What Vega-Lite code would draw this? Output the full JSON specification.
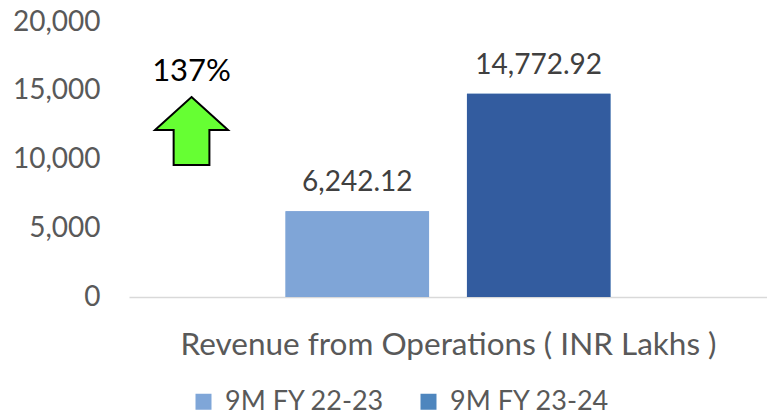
{
  "$schema": "https://vega.github.io/schema/vega-lite/v6.json",
  "width": 638,
  "height": 275,
  "autosize": {"type": "none"},
  "padding": {"left": 129, "top": 22, "right": 0, "bottom": 121},
  "background": "white",
  "config": {"view": {"stroke": null}, "font": "Lato"},
  "datasets": {
    "revenue": [
      {"series": "9M FY 22-23", "value": 6242.12},
      {"series": "9M FY 23-24", "value": 14772.92}
    ],
    "growth": [{"label": "137%"}]
  },
  "layer": [
    {
      "data": {"name": "revenue"},
      "encoding": {
        "x": {
          "field": "series",
          "type": "nominal",
          "sort": null,
          "scale": {"domain": ["9M FY 22-23", "9M FY 23-24"], "paddingInner": 0.209, "paddingOuter": 0.863},
          "axis": {
            "title": "Revenue from Operations ( INR Lakhs )",
            "labels": false,
            "ticks": false,
            "domainColor": "#D9D9D9",
            "domainWidth": 1.5,
            "titleFontSize": 31.5,
            "titleFontWeight": "normal",
            "titleColor": "#595959",
            "titlePadding": 32
          }
        },
        "y": {
          "field": "value",
          "type": "quantitative",
          "scale": {"domain": [0, 20000], "nice": false},
          "axis": {
            "title": null,
            "values": [0, 5000, 10000, 15000, 20000],
            "format": ",.0f",
            "domain": false,
            "ticks": false,
            "grid": false,
            "labelFontSize": 28,
            "labelColor": "#595959",
            "labelPadding": 29
          }
        }
      },
      "layer": [
        {
          "mark": {"type": "bar"},
          "encoding": {
            "color": {
              "field": "series",
              "type": "nominal",
              "scale": {"domain": ["9M FY 22-23", "9M FY 23-24"], "range": ["#7FA6D8", "#4E86BE"]},
              "legend": {
                "title": null,
                "orient": "none",
                "direction": "horizontal",
                "legendX": 61,
                "legendY": 366,
                "padding": 0,
                "symbolType": "square",
                "symbolSize": 256,
                "symbolStrokeWidth": 0,
                "labelFontSize": 27,
                "labelColor": "#595959",
                "labelOffset": 8,
                "labelLimit": 400,
                "columnPadding": 30
              }
            }
          }
        },
        {
          "mark": {"type": "bar"},
          "encoding": {
            "fill": {
              "field": "series",
              "type": "nominal",
              "scale": {"domain": ["9M FY 22-23", "9M FY 23-24"], "range": ["#7FA5D7", "#335C9F"]},
              "legend": null
            }
          }
        },
        {
          "mark": {"type": "text", "dy": -20, "baseline": "alphabetic", "fontSize": 28, "color": "#404040"},
          "encoding": {"text": {"field": "value", "type": "quantitative", "format": ",.2f"}}
        }
      ]
    },
    {
      "data": {"name": "growth"},
      "encoding": {
        "x": {"datum": 0.098, "type": "quantitative", "scale": {"domain": [0, 1]}, "axis": null}
      },
      "layer": [
        {
          "mark": {
            "type": "point",
            "shape": "M0,-0.93 L1,-0.03 L0.49,-0.03 L0.49,0.93 L-0.49,0.93 L-0.49,-0.03 L-1,-0.03 Z",
            "size": 5329,
            "filled": true,
            "fill": "#66FF33",
            "stroke": "#000000",
            "strokeWidth": 2,
            "opacity": 1
          },
          "encoding": {
            "y": {
              "datum": 12073,
              "type": "quantitative",
              "axis": {
                "title": null,
                "values": [0, 5000, 10000, 15000, 20000],
                "format": ",.0f",
                "domain": false,
                "ticks": false,
                "grid": false,
                "labelFontSize": 28,
                "labelColor": "#595959",
                "labelPadding": 29
              }
            }
          }
        },
        {
          "mark": {"type": "text", "baseline": "alphabetic", "fontSize": 31, "color": "#000000"},
          "encoding": {
            "y": {
              "datum": 15700,
              "type": "quantitative",
              "axis": {
                "title": null,
                "values": [0, 5000, 10000, 15000, 20000],
                "format": ",.0f",
                "domain": false,
                "ticks": false,
                "grid": false,
                "labelFontSize": 28,
                "labelColor": "#595959",
                "labelPadding": 29
              }
            },
            "text": {"field": "label"}
          }
        }
      ]
    }
  ],
  "resolve": {"scale": {"x": "independent"}}
}
